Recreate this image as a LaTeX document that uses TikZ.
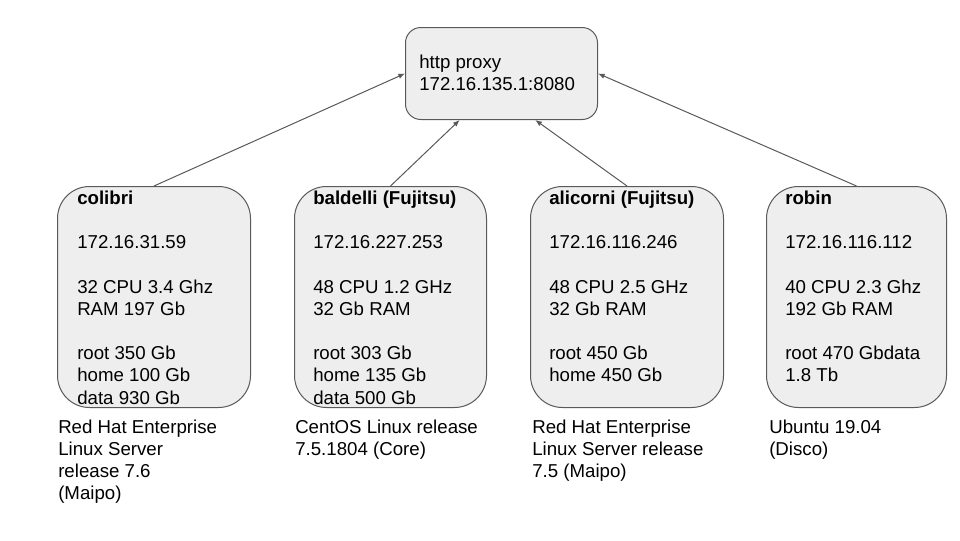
\documentclass[tikz,border=0pt]{standalone}
\usepackage{fontspec}
\setmainfont{Liberation Sans}
\usetikzlibrary{arrows.meta}
\definecolor{boxfill}{HTML}{EEEEEE}
\definecolor{boxline}{HTML}{595959}

\begin{document}
\begin{tikzpicture}[x=0.75pt, y=-0.75pt,
	server/.style={draw=boxline, fill=boxfill, line width=0.75pt, rounded corners=24pt, minimum height=165.75pt, anchor=north west, inner sep=0pt},
	info/.style={anchor=north west, align=left, inner sep=0pt, font=\fontsize{14}{16.65}\selectfont, execute at begin node=\strut},
	link/.style={draw=boxline, line width=0.75pt, -{Latex[length=5pt, width=4pt]}}]
	\useasboundingbox (0, 0) rectangle (960, 540);
	\node[server, rounded corners=11.5pt, minimum width=144pt, minimum height=69pt] (proxy) at (405, 27) {};
	\node[server, minimum width=144.75pt] (colibri) at (57, 186) {};
	\node[server, minimum width=144pt] (baldelli) at (294, 186) {};
	\node[server, minimum width=144.75pt] (alicorni) at (530, 186) {};
	\node[server, minimum width=135pt] (robin) at (766, 186) {};
	\node[info] (proxy text) at (419, 54.5) {http proxy\\172.16.135.1:8080};
	\node[info] (colibri text) at (77, 190.5) {\textbf{colibri}\\[\baselineskip]172.16.31.59\\[\baselineskip]32 CPU 3.4 Ghz\\RAM 197 Gb\\[\baselineskip]root 350 Gb\\home 100 Gb\\data 930 Gb};
	\node[info] (baldelli text) at (313, 190.5) {\textbf{baldelli (Fujitsu)}\\[\baselineskip]172.16.227.253\\[\baselineskip]48 CPU 1.2 GHz\\32 Gb RAM\\[\baselineskip]root 303 Gb\\home 135 Gb\\data 500 Gb};
	\node[info] (alicorni text) at (549, 190.5) {\textbf{alicorni (Fujitsu)}\\[\baselineskip]172.16.116.246\\[\baselineskip]48 CPU 2.5 GHz\\32 Gb RAM\\[\baselineskip]root 450 Gb\\home 450 Gb};
	\node[info] (robin text) at (785, 190.5) {\textbf{robin}\\[\baselineskip]172.16.116.112\\[\baselineskip]40 CPU 2.3 Ghz\\192 Gb RAM\\[\baselineskip]root 470 Gbdata\\1.8 Tb};
	% operating systems
	\node[info] (colibri os) at (58, 419.5) {Red Hat Enterprise\\Linux Server\\release 7.6\\(Maipo)};
	\node[info] (baldelli os) at (295, 419.5) {CentOS Linux release\\7.5.1804 (Core)};
	\node[info] (alicorni os) at (532, 419.5) {Red Hat Enterprise\\Linux Server release\\7.5 (Maipo)};
	\node[info] (robin os) at (769, 419.5) {Ubuntu 19.04\\(Disco)};
	\draw[link] (colibri.north) -- (proxy.west);
	\draw[link] (baldelli.north) -- (proxy.228);
	\draw[link] (alicorni.north) -- (proxy.306.5);
	\draw[link] (robin.north) -- (proxy.east);
\end{tikzpicture}
\end{document}
